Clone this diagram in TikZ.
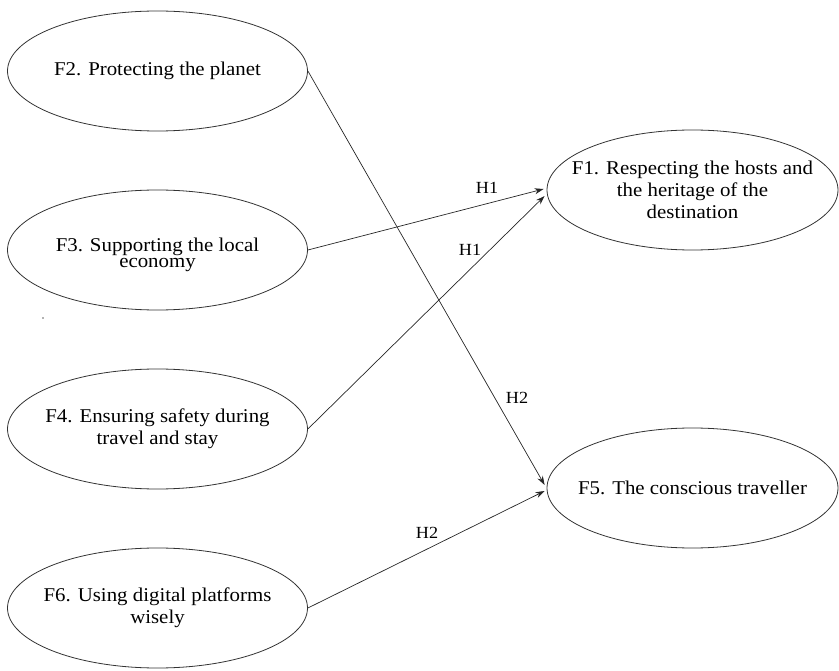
\documentclass[tikz,border=0pt]{standalone}
\usepackage{fontspec}
\setmainfont{Liberation Serif}[FakeStretch=1.07]
\usetikzlibrary{shapes.geometric,arrows.meta}
\begin{document}
\begin{tikzpicture}[x=1pt,y=-1pt,
  fac/.style={ellipse, draw=black!80, line width=0.8pt, minimum width=300pt,
    minimum height=120pt, inner sep=0pt},
  facr/.style={fac, minimum width=291pt},
  txt/.style={align=center, inner sep=0pt, font=\fontsize{19.5}{22}\selectfont},
  lab/.style={font=\fontsize{17}{20}\selectfont, inner sep=0pt},
  arr/.style={line width=0.7pt, draw=black!85, -{Stealth[length=9pt,width=6pt]}}]
\useasboundingbox (0,0) rectangle (839,671);
\node[fac, label={[txt]center:F2. Protecting the planet}] (F2) at (157.5,71) {};
\node[fac, label={[txt, yshift=-5pt]center:{F3. Supporting the local\\[-6pt]economy}}] (F3) at (157.5,250) {};
\node[fac, label={[txt]center:{F4. Ensuring safety during\\travel and stay}}] (F4) at (157.5,429) {};
\node[fac, label={[txt]center:{F6. Using digital platforms\\wisely}}] (F6) at (157.5,608) {};
\node[facr, label={[txt]center:{F1. Respecting the hosts and\\the heritage of the\\destination}}] (F1) at (692.5,190) {};
\node[facr, label={[txt]center:F5. The conscious traveller}] (F5) at (692.5,488) {};
\draw[arr] (F3.east) -- ([xshift=-3pt,yshift=1pt]F1.west);
\draw[arr] (F4.east) -- ([xshift=-2pt,yshift=-6pt]F1.west);
\draw[arr] (F2.east) -- ([xshift=-2pt,yshift=3pt]F5.west);
\draw[arr] (F6.east) -- ([xshift=-2pt,yshift=-3pt]F5.west);
\node[lab] (h1a) at (487,188) {H1};
\node[lab] (h1b) at (470,250) {H1};
\node[lab] (h2a) at (517,398) {H2};
\node[lab] (h2b) at (427,533) {H2};
\fill[black!60] (43,318) circle (0.8pt);
\end{tikzpicture}
\end{document}
